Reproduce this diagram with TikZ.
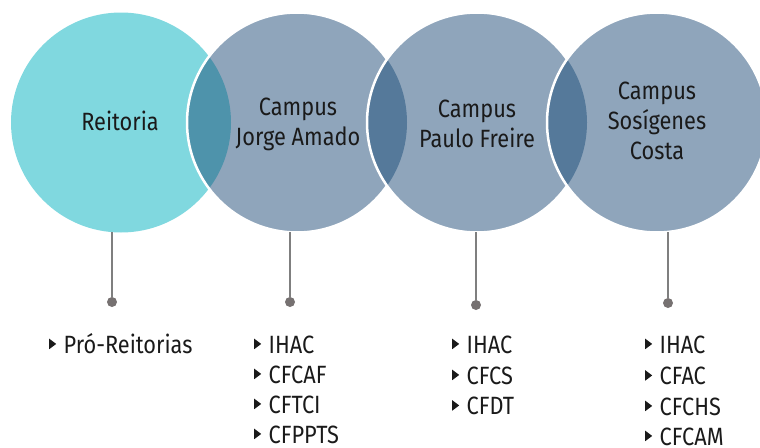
\documentclass[tikz,border=0pt]{standalone}
\usepackage{fontspec}
\setmainfont[FakeStretch=0.87]{Fira Sans}
\definecolor{cOne}{HTML}{80D8DF}
\definecolor{cCamp}{HTML}{8FA5BB}
\definecolor{ovOne}{HTML}{4E93AB}
\definecolor{ovTwo}{HTML}{55799A}
\definecolor{lineG}{HTML}{7F7F7F}
\definecolor{dotG}{HTML}{767171}
\definecolor{txt}{HTML}{1A1A1A}
\newcommand\bul{\tikz[x=1pt,y=1pt,baseline=-3.8pt]\fill[txt] (0,0)--(0,10.5)--(7,5.25)--cycle;\hspace{7.5pt}}
\begin{document}
\begin{tikzpicture}[x=1pt,y=-1pt,
  circ/.style={circle,minimum size=220pt,inner sep=0pt},
  rim/.style={draw=white,line width=2.5pt},
  lbl/.style={align=center,inner sep=0pt,text=txt,font=\fontsize{25}{30}\selectfont},
  item/.style={anchor=base west,inner sep=0pt,text=txt,font=\fontsize{25}{30}\selectfont},
  conn/.style={draw=lineG,line width=1.5pt},
  dotn/.style={circle,fill=dotG,minimum size=10pt,inner sep=0pt}]
\useasboundingbox (0,0) rectangle (760,447);
\clip (0,0) rectangle (760,447);
% circles
\node[circ,fill=cOne] (c1) at (121,122.5) {};
\node[circ,fill=cCamp] (c2) at (297,122.5) {};
\begin{scope}\clip (121,122.5) circle [radius=110pt];
  \fill[ovOne] (297,122.5) circle [radius=110pt];\end{scope}
\draw[rim] (297,122.5) circle [radius=110pt];
\node[circ,fill=cCamp] (c3) at (477,122.5) {};
\begin{scope}\clip (297,122.5) circle [radius=110pt];
  \fill[ovTwo] (477,122.5) circle [radius=110pt];\end{scope}
\draw[rim] (477,122.5) circle [radius=110pt];
\node[circ,fill=cCamp] (c4) at (657,122.5) {};
\begin{scope}\clip (477,122.5) circle [radius=110pt];
  \fill[ovTwo] (657,122.5) circle [radius=110pt];\end{scope}
\draw[rim] (657,122.5) circle [radius=110pt];
% labels
\node[lbl] (t1) at (120,121) {Reitoria};
\node[lbl] (t2) at (298,124) {Campus\\Jorge Amado};
\node[lbl] (t3) at (477,124) {Campus\\Paulo Freire};
\node[lbl] (t4) at (657,121) {Campus\\Sosígenes\\Costa};
% connectors
\coordinate (s1) at (112,232);
\coordinate (s2) at (290,232);
\coordinate (s3) at (476,232);
\coordinate (s4) at (668,232);
\node[dotn] (d1) at (112,302) {};
\node[dotn] (d2) at (290,302) {};
\node[dotn] (d3) at (476,305) {};
\node[dotn] (d4) at (668,303) {};
\draw[conn] (s1) -- (d1);
\draw[conn] (s2) -- (d2);
\draw[conn] (s3) -- (d3);
\draw[conn] (s4) -- (d4);
% lists
\node[item] (a1) at (49,353) {\bul Pró-Reitorias};
\node[item] (b1) at (254,353) {\bul IHAC};
\node[item] (b2) at (254,383) {\bul CFCAF};
\node[item] (b3) at (254,413) {\bul CFTCI};
\node[item] (b4) at (254,443) {\bul CFPPTS};
\node[item] (e1) at (452,353) {\bul IHAC};
\node[item] (e2) at (452,384) {\bul CFCS};
\node[item] (e3) at (452,414.5) {\bul CFDT};
\node[item] (f1) at (645,353) {\bul IHAC};
\node[item] (f2) at (645,384.5) {\bul CFAC};
\node[item] (f3) at (645,415) {\bul CFCHS};
\node[item] (f4) at (645,445) {\bul CFCAM};
\end{tikzpicture}
\end{document}
